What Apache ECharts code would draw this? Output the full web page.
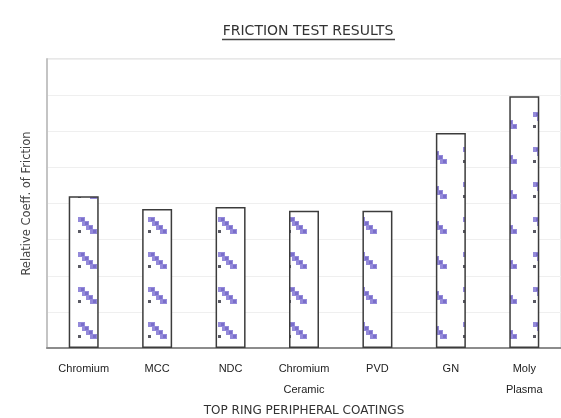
<!DOCTYPE html>
<html><head><meta charset="utf-8">
<script src="https://cdn.jsdelivr.net/npm/echarts@6/dist/echarts.min.js"></script>
<style>html,body{margin:0;padding:0;background:#fff}#c{width:561px;height:418px}</style>
</head><body><div id="c"></div>
<script>
const categories = ['Chromium', 'MCC', 'NDC', 'Chromium\nCeramic', 'PVD', 'GN', 'Moly\nPlasma'];
const frictionValues = [4.2, 3.85, 3.9, 3.8, 3.8, 5.95, 6.97];
const yTicks = [0, 1, 2, 3, 4, 5, 6, 7, 8];
const chartTitle = 'FRICTION TEST RESULTS';
const yName = 'Relative Coeff. of Friction';
const xName = 'TOP RING PERIPHERAL COATINGS';

function makeTile() {
  const t = document.createElement('canvas');
  t.width = 35; t.height = 35;
  const c = t.getContext('2d');
  c.fillStyle = '#ffffff';
  c.fillRect(0, 0, 35, 35);
  const gx = 7, gy = 7;
  c.fillStyle = '#948ada';
  for (let i = 0; i < 4; i++) c.fillRect(gx + 1 + 4 * i, gy + 4 * i, 7, 5);
  c.fillStyle = '#7a6ecb';
  for (let i = 0; i < 4; i++) c.fillRect(gx + 4 + 4 * i, gy + 1 + 4 * i, 3, 3);
  c.fillStyle = '#5a5a64';
  c.fillRect(gx + 1, gy + 13, 3, 3);
  return t;
}
const tile = makeTile();

const chart = echarts.init(document.getElementById('c'), null, {renderer: 'canvas'});
chart.setOption({
  animation: false,
  backgroundColor: '#ffffff',
  grid: {left: 47, right: 0, top: 59, bottom: 70, outerBoundsMode: 'none', containLabel: false,
         show: true, borderColor: '#d0d0d0', borderWidth: 1},
  graphic: [
    {type: 'text', x: 308, y: 31, style: {text: chartTitle, font: '14px "DejaVu Sans"', fill: '#333', textAlign: 'center', textVerticalAlign: 'middle'}},
    {type: 'line', shape: {x1: 222, y1: 39.5, x2: 395, y2: 39.5}, style: {stroke: '#444', lineWidth: 1.3}}
  ],
  xAxis: {
    type: 'category', data: categories,
    axisTick: {show: false},
    axisLine: {lineStyle: {color: '#8c8c8c', width: 2}},
    axisLabel: {interval: 0, fontFamily: 'Liberation Sans', fontSize: 11, color: '#222', margin: 10, lineHeight: 21},
    name: xName, nameLocation: 'middle', nameGap: 55,
    nameTextStyle: {fontFamily: 'DejaVu Sans', fontSize: 12, color: '#333'}
  },
  yAxis: {
    type: 'value', min: yTicks[0], max: yTicks[yTicks.length - 1], interval: yTicks[1] - yTicks[0],
    axisLabel: {show: false}, axisTick: {show: false},
    axisLine: {show: true, lineStyle: {color: '#c4c4c4', width: 2}},
    splitLine: {lineStyle: {color: '#efefef', width: 1}},
    name: yName, nameLocation: 'middle', nameGap: 14, nameRotate: 90,
    nameTextStyle: {fontFamily: 'DejaVu Sans', fontSize: 11.5, color: '#444'}
  },
  series: [{
    type: 'bar', data: frictionValues, barWidth: 30,
    itemStyle: {color: {image: tile, repeat: 'repeat'}, borderColor: '#3c3c3c', borderWidth: 1.5}
  }]
});
</script></body></html>
